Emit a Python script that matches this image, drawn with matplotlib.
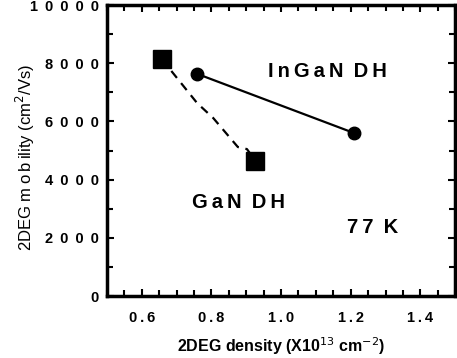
import matplotlib
matplotlib.use("Agg")
import matplotlib.pyplot as plt
from matplotlib.ticker import MultipleLocator, FixedLocator

plt.rcParams['font.family'] = ['Liberation Sans', 'DejaVu Sans']

# InGaN DH (solid line, circles)
ingan_x = [0.76, 1.21]
ingan_y = [7630, 5600]

# GaN DH (dashed line, squares at the ends)
gan_x = [0.657, 0.926]
gan_y = [8150, 4650]
gan_path_x = [0.657, 0.759, 0.805, 0.876, 0.902, 0.926]
gan_path_y = [8150, 6630, 6120, 5120, 5050, 4650]

xticks = [0.6, 0.8, 1.0, 1.2, 1.4]
yticks = [0, 2000, 4000, 6000, 8000, 10000]

TS = '\u2009'  # thin space, the original text is letter-spaced
WS = '\u2002'  # en space between words


def spaced(s):
    return WS.join(TS.join(w) for w in s.split(' '))


fig = plt.figure(figsize=(4.57, 3.58), dpi=100)
ax = fig.add_axes([0.234, 0.173, 0.762, 0.813])

ax.plot(gan_path_x, gan_path_y, color='black', lw=1.6, ls=(0, (4, 3)))
ax.plot(gan_x, gan_y, 's', color='black', ms=12.5)
ax.plot(ingan_x, ingan_y, '-o', color='black', lw=1.6, ms=9)

ax.set_xlim(0.5, 1.5)
ax.set_ylim(0, 10000)

ax.xaxis.set_major_locator(FixedLocator(xticks))
ax.xaxis.set_minor_locator(MultipleLocator(0.05))
ax.yaxis.set_major_locator(FixedLocator(yticks))
ax.yaxis.set_minor_locator(MultipleLocator(1000))

ax.set_xticklabels([spaced(f'{v:.1f}') for v in xticks], fontsize=10.5, fontweight='bold')
ax.set_yticklabels([(' ' + TS).join(str(v)) for v in yticks], fontsize=10.5, fontweight='bold')

ax.tick_params(which='both', direction='in', top=True, right=True, width=1.5)
ax.tick_params(which='major', length=5)
ax.tick_params(which='minor', length=4)
ax.tick_params(axis='x', pad=11)
ax.tick_params(axis='y', pad=6)

for sp in ax.spines.values():
    sp.set_linewidth(2.5)

ax.set_xlabel('2DEG density (X10$^{13}$ cm$^{-2}$)', fontsize=11.5, fontweight='bold', labelpad=7)
ax.set_ylabel('2DEG m' + TS + 'o' + TS + 'b' + TS + 'ility (cm$^2$/Vs)', fontsize=12)
ax.yaxis.set_label_coords(-0.2, 0.478)

ax.text(0.963, 7700, spaced('InGaN DH'), fontsize=14.5, fontweight='bold',
        ha='left', va='center')
ax.text(0.745, 3200, spaced('GaN DH'), fontsize=14.5, fontweight='bold',
        ha='left', va='center')
ax.text(1.19, 2350, spaced('77 K'), fontsize=14.5, fontweight='bold', ha='left', va='center')

fig.savefig('out.png', dpi=100)
